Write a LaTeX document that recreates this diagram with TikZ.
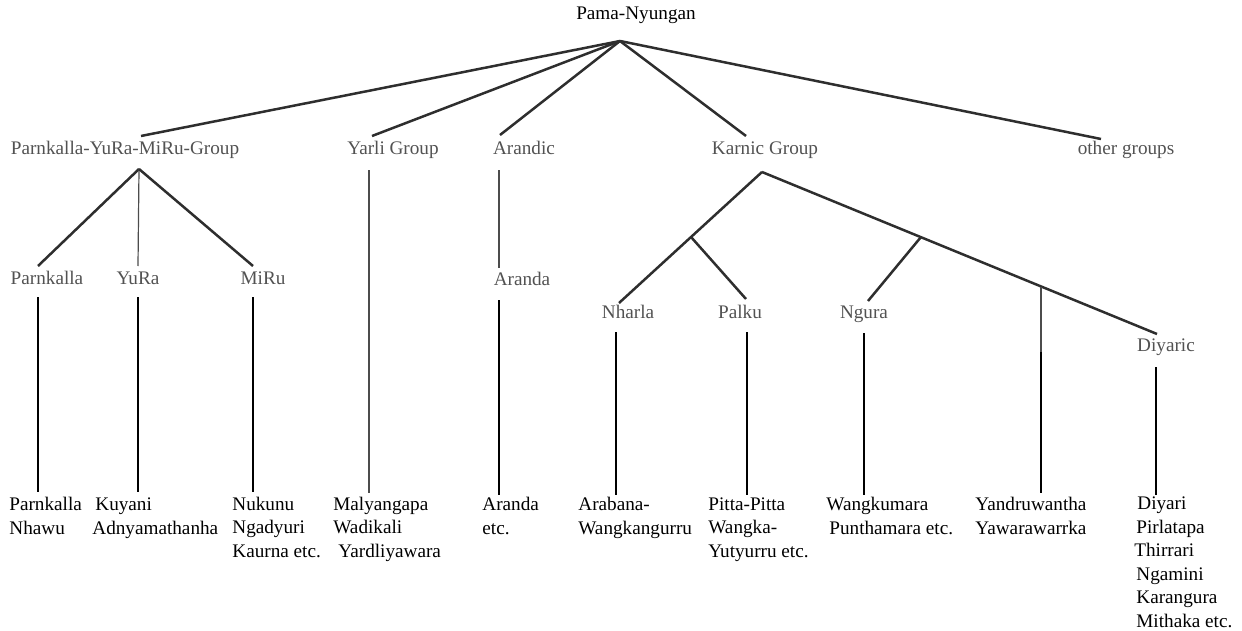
\documentclass[tikz,border=0pt]{standalone}
\usepackage{fontspec}
\setmainfont{Liberation Serif}
\begin{document}
\begin{tikzpicture}[x=0.5pt,y=-0.5pt,
  every node/.style={inner sep=0pt,font=\fontsize{9.6pt}{11.75pt}\selectfont},
  toplabel/.style={anchor=base,text=black},
  grouplabel/.style={anchor=base,text=black!68},
  midlabel/.style={anchor=base,text=black!68},
  leaflabel/.style={anchor=base west,align=left,text=black},
  thickline/.style={draw=black!82,line width=1.25pt},
  thinline/.style={draw=black!70,line width=0.6pt},
  leafline/.style={draw=black,line width=1.2pt}]
\useasboundingbox (0,0) rectangle (1242,631);

% labels
\node[toplabel] (pn) at (636,20) {Pama-Nyungan};
\node[grouplabel] (pym) at (125,155) {Parnkalla-YuRa-MiRu-Group};
\node[grouplabel] (yarli) at (393,155) {Yarli Group};
\node[grouplabel] (arandic) at (524,155) {Arandic};
\node[grouplabel] (karnic) at (765,155) {Karnic Group};
\node[grouplabel] (other) at (1126,155) {other groups};

\node[midlabel] (parn) at (47,284) {Parnkalla};
\node[midlabel] (yura) at (138,284) {YuRa};
\node[midlabel] (miru) at (263,284) {MiRu};
\node[midlabel] (aranda) at (522,285) {Aranda};
\node[midlabel] (nharla) at (628,318) {Nharla};
\node[midlabel] (palku) at (740,318) {Palku};
\node[midlabel] (ngura) at (864,318) {Ngura};
\node[midlabel] (diyaric) at (1166,351) {Diyaric};

% leaf labels: base anchor is the baseline of the last line
\node[leaflabel] (l1) at (9,534) {Parnkalla\\Nhawu};
\node[leaflabel] (l2) at (92,534) {\hspace*{1.5pt}Kuyani\\Adnyamathanha};
\node[leaflabel] (l3) at (232,557) {Nukunu\\Ngadyuri\\Kaurna etc.};
\node[leaflabel] (l4) at (333,557) {Malyangapa\\Wadikali\\\hspace*{2.5pt}Yardliyawara};
\node[leaflabel] (l5) at (482,534) {Aranda\\etc.};
\node[leaflabel] (l6) at (578,534) {Arabana-\\Wangkangurru};
\node[leaflabel] (l7) at (708,557) {Pitta-Pitta\\Wangka-\\Yutyurru etc.};
\node[leaflabel] (l8) at (826,534) {Wangkumara\\\hspace*{1.5pt}Punthamara etc.};
\node[leaflabel] (l9) at (975,534) {Yandruwantha\\Yawarawarrka};
\node[leaflabel] (l10) at (1134,627) {\hspace*{1.5pt}Diyari\\\hspace*{1pt}Pirlatapa\\Thirrari\\\hspace*{1pt}Ngamini\\\hspace*{1pt}Karangura\\\hspace*{1pt}Mithaka etc.};

% junction coordinates
\coordinate (root) at (620,41);
\coordinate (eP) at (141,136);
\coordinate (eY) at (372,136);
\coordinate (eA) at (500,135);
\coordinate (eK) at (746,136);
\coordinate (eO) at (1101,139);

\coordinate (apP) at (139,169);
\coordinate (ePa) at (38,266);
\coordinate (eYu) at (138,266);
\coordinate (eMi) at (253,266);
\coordinate (yTop) at (369,170);
\coordinate (yBot) at (369,493);
\coordinate (aTop) at (499,170);
\coordinate (aBot) at (499,268);

\coordinate (vPa1) at (38,297);   \coordinate (vPa2) at (38,492);
\coordinate (vYu1) at (138,297);  \coordinate (vYu2) at (138,492);
\coordinate (vMi1) at (253,297);  \coordinate (vMi2) at (253,492);
\coordinate (vAr1) at (499,300);  \coordinate (vAr2) at (499,495);

\coordinate (apK) at (762,172);
\coordinate (jNP) at (691,237);
\coordinate (eNh) at (619,303);
\coordinate (ePk) at (746,299);
\coordinate (eDi) at (1157,334);
\coordinate (jNg) at (921,237);
\coordinate (eNg) at (868,301);
\coordinate (jYa) at (1041,287);
\coordinate (mYa) at (1041,352);
\coordinate (bYa) at (1041,493);

\coordinate (vNh1) at (616,332);  \coordinate (vNh2) at (616,495);
\coordinate (vPk1) at (747,332);  \coordinate (vPk2) at (747,495);
\coordinate (vNg1) at (864,333);  \coordinate (vNg2) at (864,495);
\coordinate (vDi1) at (1156,367); \coordinate (vDi2) at (1156,495);

% connectors
\draw[thickline] (root) -- (eP);
\draw[thickline] (root) -- (eY);
\draw[thickline] (root) -- (eA);
\draw[thickline] (root) -- (eK);
\draw[thickline] (root) -- (eO);

\draw[thickline] (apP) -- (ePa);
\draw[thinline] (apP) -- (eYu);
\draw[thickline] (apP) -- (eMi);
\draw[thinline] (yTop) -- (yBot);
\draw[thinline] (aTop) -- (aBot);

\draw[leafline] (vPa1) -- (vPa2);
\draw[leafline] (vYu1) -- (vYu2);
\draw[leafline] (vMi1) -- (vMi2);
\draw[leafline] (vAr1) -- (vAr2);

\draw[thickline] (apK) -- (eNh);
\draw[thickline] (jNP) -- (ePk);
\draw[thickline] (apK) -- (eDi);
\draw[thickline] (jNg) -- (eNg);
\draw[thinline] (jYa) -- (mYa);
\draw[leafline] (mYa) -- (bYa);

\draw[leafline] (vNh1) -- (vNh2);
\draw[leafline] (vPk1) -- (vPk2);
\draw[leafline] (vNg1) -- (vNg2);
\draw[leafline] (vDi1) -- (vDi2);
\end{tikzpicture}
\end{document}
